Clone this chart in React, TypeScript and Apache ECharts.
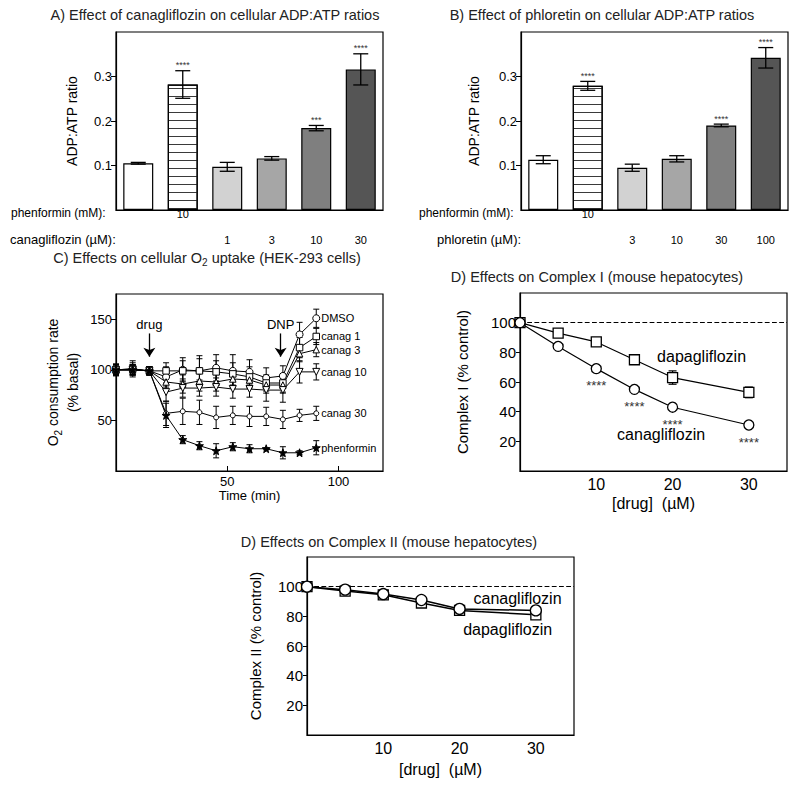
import React, { useEffect, useRef } from 'react';
import * as echarts from 'echarts';

const FONT = "'Liberation Sans', Arial, Helvetica, sans-serif";

// ---------- Panel A: canagliflozin, ADP:ATP ----------
const phenRowA = ['', '10', '', '', '', ''];
const canaRowA = ['', '', '1', '3', '10', '30'];
const valsA = [0.105, 0.282, 0.097, 0.116, 0.184, 0.316];
const errA = [0.002, 0.031, 0.010, 0.004, 0.006, 0.035];
const sigA = ['', '****', '', '', '***', '****'];

// ---------- Panel B: phloretin, ADP:ATP ----------
const phenRowB = ['', '10', '', '', '', ''];
const phloRowB = ['', '', '3', '10', '30', '100'];
const valsB = [0.113, 0.279, 0.095, 0.115, 0.190, 0.342];
const errB = [0.009, 0.010, 0.008, 0.007, 0.003, 0.023];
const sigB = ['', '****', '', '', '****', '****'];

const barFills = ['#ffffff', '#ffffff', '#d2d2d2', '#a6a6a6', '#7f7f7f', '#555555'];
const ratioTicks = [0.1, 0.2, 0.3];

// ---------- Panel C: O2 uptake ----------
const timeC = [0, 7.5, 15, 22.5, 30, 37.5, 45, 52.5, 60, 67.5, 75, 82.5, 90];
const dmso = [100, 101, 99, 93, 100, 99, 102, 99, 98, 92, 94, 135, 151];
const canag1 = [100, 101, 99, 99, 99, 99, 98, 96, 93, 87, 87, 122, 133];
const canag3 = [100, 100, 99, 88, 86, 89, 88, 91, 90, 85, 85, 116, 120];
const canag10 = [100, 100, 99, 78, 82, 82, 83, 81, 81, 80, 80, 98, 98];
const canag30 = [100, 100, 99, 57, 59, 58, 53, 55, 54, 54, 51, 55, 57];
const phenC = [100, 100, 99, 55, 31, 25, 20, 24, 22, 22, 18, 18, 23];
const dmsoE = [6, 8, 4, 10, 12, 15, 13, 16, 12, 10, 10, 12, 9];
const canag1E = [5, 6, 4, 8, 10, 12, 11, 11, 10, 8, 9, 10, 8];
const canag3E = [5, 5, 4, 8, 9, 10, 9, 9, 8, 8, 8, 8, 7];
const canag10E = [5, 5, 4, 9, 9, 8, 9, 9, 8, 11, 12, 11, 8];
const canag30E = [5, 5, 4, 12, 13, 12, 11, 9, 10, 9, 9, 6, 7];
const phenCE = [5, 5, 4, 12, 4, 4, 7, 4, 4, 1, 6, 2, 7];
const o2Ticks = [50, 100, 150];
const timeTicks = [50, 100];

// ---------- Panel D: Complex I ----------
const doseD = [0, 5, 10, 15, 20, 30];
const canaD = [100, 84, 69, 55, 43, 31];
const dapaD = [100, 93, 87, 75, 63, 53];
const canaDE = [0, 1, 1.5, 1.5, 1.5, 1.5];
const dapaDE = [0, 1, 1.5, 2, 4.5, 3.6];
const sigD = ['', '', '****', '****', '****', '****'];

// ---------- Panel E: Complex II ----------
const doseE = [0, 5, 10, 15, 20, 30];
const canaE = [100, 98, 95, 91, 85, 84];
const dapaE = [100, 97, 94.5, 89, 84, 81];
const canaEE = [0, 1, 1, 1.5, 1.5, 1.5];
const dapaEE = [0, 1, 1, 1.5, 1.5, 1.5];

const pctTicks = [20, 40, 60, 80, 100];
const doseTicks = [10, 20, 30];

const STAR = 'path://M0,-10L2.35,-3.24L9.51,-3.09L3.8,1.24L5.88,8.09L0,4L-5.88,8.09L-3.8,1.24L-9.51,-3.09L-2.35,-3.24Z';

function errSeries(xi: number, yi: number, xs: number[], ys: number[], es: number[], cap: number, lw: number, sig?: string[], sigSize?: number): any {
  return {
    type: 'custom',
    xAxisIndex: xi,
    yAxisIndex: yi,
    z: 4,
    silent: true,
    data: ys.map((y, i) => [xs[i], y, es[i]]),
    renderItem: (params: any, api: any) => {
      const x = api.value(0);
      const y = api.value(1);
      const e = api.value(2);
      const hi = api.coord([x, y + e]);
      const lo = api.coord([x, y - e]);
      const st = { stroke: '#000', lineWidth: lw };
      const children: any[] = [];
      if (e > 0) {
        children.push({ type: 'line', shape: { x1: hi[0], y1: hi[1], x2: lo[0], y2: lo[1] }, style: st });
        children.push({ type: 'line', shape: { x1: hi[0] - cap, y1: hi[1], x2: hi[0] + cap, y2: hi[1] }, style: st });
        children.push({ type: 'line', shape: { x1: lo[0] - cap, y1: lo[1], x2: lo[0] + cap, y2: lo[1] }, style: st });
      }
      const s = sig ? sig[params.dataIndex] : '';
      if (s) {
        children.push({
          type: 'text', x: hi[0], y: hi[1] - 1,
          style: { text: s, fontSize: sigSize || 9, fontFamily: FONT, fill: '#333', align: 'center', verticalAlign: 'bottom' },
        });
      }
      return { type: 'group', children };
    },
  };
}

function textMark(text: string, coord: number[], fontSize: number): any {
  return {
    silent: true,
    symbol: 'circle',
    symbolSize: 0,
    itemStyle: { color: 'transparent' },
    label: { show: true, position: 'inside', formatter: text, fontSize, lineHeight: 12, color: '#000', fontFamily: FONT },
    data: [{ coord }],
  };
}

const hatch = {
  color: '#ffffff',
  decal: {
    symbol: 'rect',
    symbolSize: 1,
    dashArrayX: [1, 0],
    dashArrayY: [1, 6.4],
    rotation: 0,
    color: '#3a3a3a',
    backgroundColor: '#ffffff',
  },
};

function barSeries(xi: number, yi: number, vals: number[]): any {
  return {
    type: 'bar',
    xAxisIndex: xi,
    yAxisIndex: yi,
    barWidth: 30,
    z: 2,
    itemStyle: { borderColor: '#000', borderWidth: 1.2 },
    data: vals.map((v, i) => ({ value: v, itemStyle: i === 1 ? hatch : { color: barFills[i] } })),
  };
}

const axisBlack = { show: true, lineStyle: { color: '#000', width: 1.2 } };

function catAxis(grid: number, labels: string[], offset: number, showLine: boolean): any {
  return {
    type: 'category',
    gridIndex: grid,
    data: labels.map((_, i) => 'c' + i),
    position: 'bottom',
    offset,
    boundaryGap: true,
    axisLine: showLine ? axisBlack : { show: false },
    axisTick: { show: false },
    splitLine: { show: false },
    axisLabel: { interval: 0, margin: -2, fontSize: 11, color: '#000', fontFamily: FONT, formatter: (_: any, i: number) => labels[i] },
  };
}

function ratioAxis(grid: number, gap: number): any {
  return {
    type: 'value', gridIndex: grid, min: 0, max: 0.4, interval: 0.1,
    axisLine: axisBlack,
    axisTick: { show: true, length: 5, customValues: ratioTicks, lineStyle: { color: '#000' } },
    axisLabel: { customValues: ratioTicks, formatter: (v: number) => v.toFixed(1), fontSize: 13, color: '#000', fontFamily: FONT, margin: 4 },
    splitLine: { show: false },
    name: 'ADP:ATP ratio', nameLocation: 'middle', nameGap: gap,
    nameTextStyle: { fontSize: 14, color: '#000', fontFamily: FONT },
  };
}

function doseAxis(grid: number, gap: number): any {
  return {
    type: 'value', gridIndex: grid, min: 0, max: 35, interval: 5,
    axisLine: axisBlack,
    axisTick: { show: false },
    axisLabel: { customValues: doseTicks, fontSize: 16, color: '#000', fontFamily: FONT, margin: 5 },
    splitLine: { show: false },
    name: '[drug]  (\u00b5M)', nameLocation: 'middle', nameGap: gap,
    nameTextStyle: { fontSize: 16, color: '#000', fontFamily: FONT },
  };
}

function pctAxis(grid: number, name: string, gap: number): any {
  return {
    type: 'value', gridIndex: grid, min: 0, max: 120, interval: 20,
    axisLine: axisBlack,
    axisTick: { show: true, length: 4, customValues: pctTicks, lineStyle: { color: '#000' } },
    axisLabel: { customValues: pctTicks, fontSize: 15, color: '#000', fontFamily: FONT, margin: 4 },
    splitLine: { show: false },
    name, nameLocation: 'middle', nameGap: gap,
    nameTextStyle: { fontSize: 15, color: '#000', fontFamily: FONT },
  };
}

function lineC(data: number[], name: string, symbol: string, size: number, filled: boolean, rotate = 0): any {
  return {
    type: 'line', xAxisIndex: 4, yAxisIndex: 2, name, z: 5,
    data: timeC.map((t, i) => [t, data[i]]),
    symbol, symbolSize: size, symbolRotate: rotate, showAllSymbol: true,
    itemStyle: { color: filled ? '#000' : '#fff', borderColor: '#000', borderWidth: 1 },
    lineStyle: { color: '#000', width: 1 },
    endLabel: { show: true, formatter: name, distance: 5, fontSize: 11, color: '#000', fontFamily: FONT },
  };
}

function lineDE(xi: number, yi: number, xs: number[], ys: number[], symbol: string, size: number, lw: number): any {
  return {
    type: 'line', xAxisIndex: xi, yAxisIndex: yi, z: 5,
    data: xs.map((x, i) => [x, ys[i]]),
    symbol, symbolSize: size, showAllSymbol: true,
    itemStyle: { color: '#fff', borderColor: '#000', borderWidth: 1.3 },
    lineStyle: { color: '#000', width: lw },
  };
}

const dashed100 = {
  silent: true, symbol: 'none',
  lineStyle: { type: 'dashed', color: '#000', width: 1.2 },
  label: { show: false },
  data: [{ yAxis: 100 }],
};

function titleAt(text: string, x: number, y: number, rich?: any): any {
  return {
    text, left: x, top: y, textAlign: 'center', padding: 0,
    textStyle: { fontSize: 14.5, fontWeight: 'normal', color: '#222', fontFamily: FONT, lineHeight: 16, rich },
  };
}

function rowLabel(text: string, x: number, y: number, size: number): any {
  return { type: 'text', x, y, style: { text, fontSize: size, fontFamily: FONT, fill: '#000', align: 'left', verticalAlign: 'middle' } };
}

export default function App() {
  const ref = useRef<HTMLDivElement>(null);
  useEffect(() => {
    if (!ref.current) return;
    const chart = echarts.init(ref.current, null, { renderer: 'svg' });
    const subRich = {
      a: { fontSize: 14.5, color: '#222', fontFamily: FONT, lineHeight: 18 },
      s: { fontSize: 10, color: '#222', fontFamily: FONT, lineHeight: 11, verticalAlign: 'bottom' },
    };
    const option: any = {
      animation: false,
      backgroundColor: '#fff',
      title: [
        titleAt('A) Effect of canagliflozin on cellular ADP:ATP ratios', 215, 7),
        titleAt('B) Effect of phloretin on cellular ADP:ATP ratios', 602, 7),
        titleAt('{a|C) Effects on cellular O}{s|2}{a| uptake (HEK-293 cells)}', 207, 249, subRich),
        titleAt('D) Effects on Complex I (mouse hepatocytes)', 597, 269),
        titleAt('D) Effects on Complex II (mouse hepatocytes)', 389, 534),
      ],
      grid: [
        { left: 116, top: 32, width: 267, height: 178, show: true, borderColor: '#000', borderWidth: 1.2, containLabel: false },
        { left: 521, top: 32, width: 267, height: 178, show: true, borderColor: '#000', borderWidth: 1.2, containLabel: false },
        { left: 116, top: 294, width: 267, height: 177, show: true, borderColor: '#000', borderWidth: 1.2, containLabel: false },
        { left: 520, top: 293, width: 267, height: 178, show: true, borderColor: '#000', borderWidth: 1.2, containLabel: false },
        { left: 307, top: 557, width: 267, height: 178, show: true, borderColor: '#000', borderWidth: 1.2, containLabel: false },
      ],
      xAxis: [
        catAxis(0, phenRowA, 0, true),
        catAxis(0, canaRowA, 26, false),
        catAxis(1, phenRowB, 0, true),
        catAxis(1, phloRowB, 26, false),
        {
          type: 'value', gridIndex: 2, min: 0, max: 120, interval: 10,
          axisLine: axisBlack,
          axisTick: { show: true, inside: true, length: 5, customValues: timeTicks, lineStyle: { color: '#000' } },
          axisLabel: { customValues: timeTicks, fontSize: 13, color: '#000', fontFamily: FONT, margin: 4 },
          splitLine: { show: false },
          name: 'Time (min)', nameLocation: 'middle', nameGap: 14,
          nameTextStyle: { fontSize: 13, color: '#000', fontFamily: FONT },
        },
        doseAxis(3, 24),
        doseAxis(4, 26),
      ],
      yAxis: [
        ratioAxis(0, 37),
        ratioAxis(1, 40),
        {
          type: 'value', gridIndex: 2, min: 0, max: 175, interval: 25,
          axisLine: axisBlack,
          axisTick: { show: true, length: 5, customValues: o2Ticks, lineStyle: { color: '#000' } },
          axisLabel: { customValues: o2Ticks, fontSize: 13, color: '#000', fontFamily: FONT, margin: 4 },
          splitLine: { show: false },
          name: '{a|O}{s|2}{a| consumption rate}\n{a|(% basal)}', nameLocation: 'middle', nameGap: 33,
          nameTextStyle: {
            fontSize: 14,
            rich: {
              a: { fontSize: 14, color: '#000', fontFamily: FONT, lineHeight: 20 },
              s: { fontSize: 10, color: '#000', fontFamily: FONT, lineHeight: 10, verticalAlign: 'bottom' },
            },
          },
        },
        pctAxis(3, 'Complex I (% control)', 50),
        pctAxis(4, 'Complex II (% control)', 44),
      ],
      series: [
        barSeries(0, 0, valsA),
        errSeries(0, 0, valsA.map((_, i) => i), valsA, errA, 7.5, 1.3, sigA, 9),
        barSeries(2, 1, valsB),
        errSeries(2, 1, valsB.map((_, i) => i), valsB, errB, 7.5, 1.3, sigB, 9),

        errSeries(4, 2, timeC, dmso, dmsoE, 3, 1),
        errSeries(4, 2, timeC, canag1, canag1E, 3, 1),
        errSeries(4, 2, timeC, canag3, canag3E, 3, 1),
        errSeries(4, 2, timeC, canag10, canag10E, 3, 1),
        errSeries(4, 2, timeC, canag30, canag30E, 3, 1),
        errSeries(4, 2, timeC, phenC, phenCE, 3, 1),
        {
          ...lineC(dmso, 'DMSO', 'circle', 7, false),
          markLine: {
            silent: true,
            symbol: ['none', 'arrow'],
            symbolSize: 9,
            lineStyle: { color: '#000', type: 'solid', width: 1.3 },
            label: { show: true, position: 'start', distance: 2, fontSize: 13, color: '#000', fontFamily: FONT },
            data: [
              [{ coord: [15, 136], label: { formatter: 'drug' } }, { coord: [15, 113] }],
              [{ coord: [74, 136], label: { formatter: 'DNP' } }, { coord: [74, 113] }],
            ],
          },
        },
        lineC(canag1, 'canag 1', 'rect', 6.5, false),
        lineC(canag3, 'canag 3', 'triangle', 6.5, false),
        lineC(canag10, 'canag 10', 'triangle', 7, false, 180),
        lineC(canag30, 'canag 30', 'circle', 5, false),
        lineC(phenC, 'phenformin', STAR, 8, true),

        errSeries(5, 3, doseD, dapaD, dapaDE, 4, 1.2),
        errSeries(5, 3, doseD, canaD, canaDE, 4, 1.2),
        {
          ...lineDE(5, 3, doseD, dapaD, 'rect', 10, 1.2),
          markPoint: textMark('dapagliflozin', [23.8, 77], 16),
        },
        {
          ...lineDE(5, 3, doseD, canaD, 'circle', 10, 1.2),
          label: {
            show: true, position: 'bottom', distance: 9, fontSize: 13, lineHeight: 5, color: '#333', fontFamily: FONT,
            formatter: (p: any) => sigD[p.dataIndex],
          },
          markLine: dashed100,
          markPoint: textMark('canagliflozin', [18.5, 24.8], 16),
        },

        errSeries(6, 4, doseE, dapaE, dapaEE, 4, 1.2),
        errSeries(6, 4, doseE, canaE, canaEE, 4, 1.2),
        {
          ...lineDE(6, 4, doseE, dapaE, 'rect', 10, 1.5),
          markPoint: textMark('dapagliflozin', [26.3, 71.4], 16),
          markLine: dashed100,
        },
        {
          ...lineDE(6, 4, doseE, canaE, 'circle', 11, 1.5),
          markPoint: textMark('canagliflozin', [27.6, 92.3], 16),
        },
      ],
      graphic: [
        rowLabel('phenformin (mM):', 11, 213, 12),
        rowLabel('canagliflozin (\u00b5M):', 10, 239.5, 13),
        rowLabel('phenformin (mM):', 419, 213, 12),
        rowLabel('phloretin (\u00b5M):', 437, 239.5, 13),
      ],
    };
    chart.setOption(option);
    return () => chart.dispose();
  }, []);
  return <div ref={ref} style={{ position: 'absolute', left: 0, top: 0, width: 800, height: 788 }} />;
}
